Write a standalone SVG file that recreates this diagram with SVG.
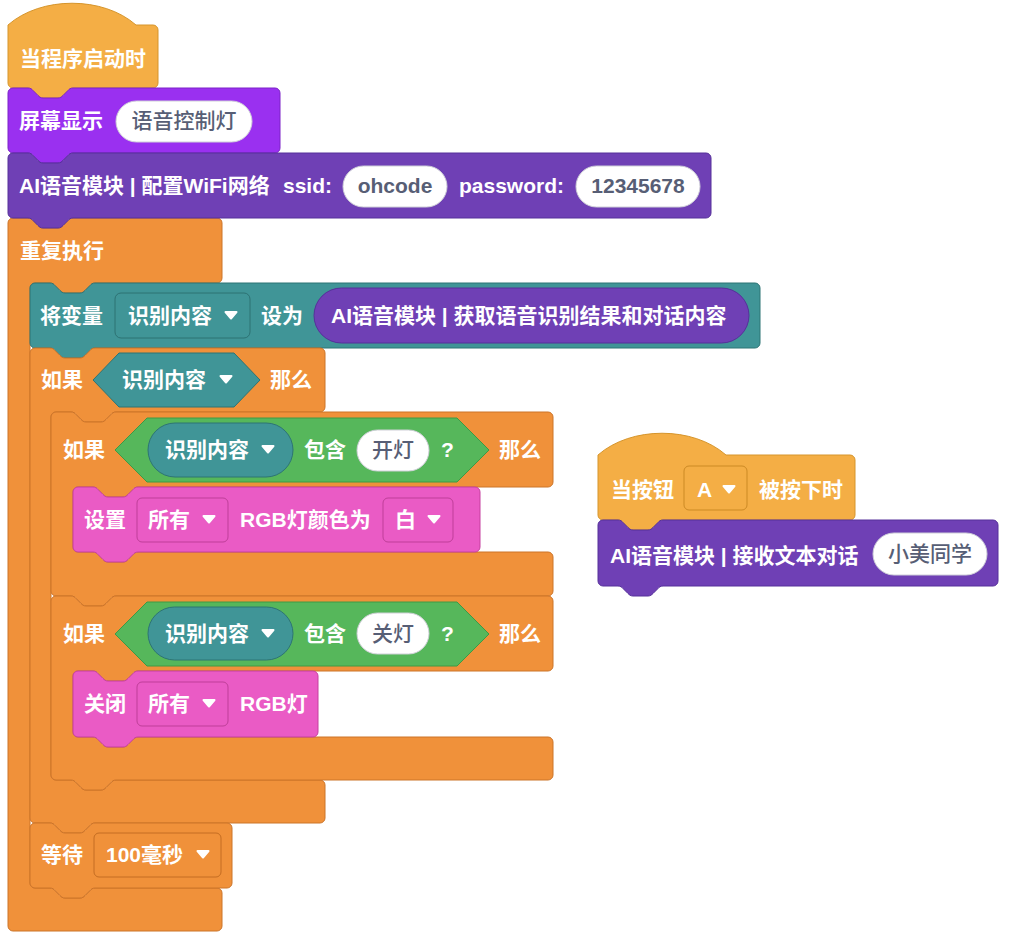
<svg xmlns="http://www.w3.org/2000/svg" xmlns:xlink="http://www.w3.org/1999/xlink" width="1024" height="947" viewBox="0 0 1024 947">
<defs>
<style>
.t{font-family:"Liberation Sans","Noto Sans CJK SC",sans-serif;font-size:21px;font-weight:bold;fill:#fff}
.g{fill:#575e75;text-anchor:middle}
.m{font-weight:500}
.hat{fill:#f4ae45;stroke:#d6952c;stroke-width:1}
.ctl{fill:#f0913a;stroke:#cc7429;stroke-width:1}
.pur1{fill:#9a30f0;stroke:#7c22c8;stroke-width:1}
.pur2{fill:#6f40b5;stroke:#56309a;stroke-width:1}
.teal{fill:#409597;stroke:#2d7475;stroke-width:1}
.grn{fill:#56b75b;stroke:#3e9a44;stroke-width:1}
.pnk{fill:#ea5bc5;stroke:#c6409f;stroke-width:1}
.pill{fill:#fff;stroke:#cfcfd8;stroke-width:1}
.ddh{fill:#f4ae45;stroke:#cc8a25}
.ddc{fill:#f0913a;stroke:#c46d22}
.ddt{fill:#409597;stroke:#2d7273}
.ddp{fill:#ea5bc5;stroke:#bf3f99}
</style>
<path id="arr" d="M-5.5,-3 H5.5 L0,3.5 Z" fill="#fff" stroke="#fff" stroke-width="2" stroke-linejoin="round"/>
</defs>
<rect width="1024" height="947" fill="#fff"/>
<g id="connectors"/>

<g id="forever">
<path class="ctl" d="M8,223 a5,5 0 0 1 5,-5 H28 c2.5,0 4,1.3 5,2.5 l5,5 c1.3,1.3 2.5,2.5 5,2.5 h15 c2.5,0 3.7,-1.2 5,-2.5 l5,-5 c1,-1.2 2.5,-2.5 5,-2.5 H217 a5,5 0 0 1 5,5 V278 a5,5 0 0 1 -5,5 H95 c-2.5,0 -4,1.3 -5,2.5 l-5,5 c-1.3,1.3 -2.5,2.5 -5,2.5 h-15 c-2.5,0 -3.7,-1.2 -5,-2.5 l-5,-5 c-1,-1.2 -2.5,-2.5 -5,-2.5 H35 a5,5 0 0 0 -5,5 V883 a5,5 0 0 0 5,5 H50 c2.5,0 4,1.3 5,2.5 l5,5 c1.3,1.3 2.5,2.5 5,2.5 h15 c2.5,0 3.7,-1.2 5,-2.5 l5,-5 c1,-1.2 2.5,-2.5 5,-2.5 H217 a5,5 0 0 1 5,5 V926 a5,5 0 0 1 -5,5 H13 a5,5 0 0 1 -5,-5 Z"/>
<text class="t" x="20" y="258">重复执行</text>
</g>

<g id="hat-start">
<path class="hat" d="M8,25 c33,-29 95,-29 128,0 H153 a5,5 0 0 1 5,5 V83 a5,5 0 0 1 -5,5 H73 c-2.5,0 -4,1.3 -5,2.5 l-5,5 c-1.3,1.3 -2.5,2.5 -5,2.5 h-15 c-2.5,0 -3.7,-1.2 -5,-2.5 l-5,-5 c-1,-1.2 -2.5,-2.5 -5,-2.5 H13 a5,5 0 0 1 -5,-5 Z"/>
<text class="t" x="20" y="66">当程序启动时</text>
</g>

<g id="screen-show">
<path class="pur1" d="M8,93 a5,5 0 0 1 5,-5 H28 c2.5,0 4,1.3 5,2.5 l5,5 c1.3,1.3 2.5,2.5 5,2.5 h15 c2.5,0 3.7,-1.2 5,-2.5 l5,-5 c1,-1.2 2.5,-2.5 5,-2.5 H275 a5,5 0 0 1 5,5 V148 a5,5 0 0 1 -5,5 H73 c-2.5,0 -4,1.3 -5,2.5 l-5,5 c-1.3,1.3 -2.5,2.5 -5,2.5 h-15 c-2.5,0 -3.7,-1.2 -5,-2.5 l-5,-5 c-1,-1.2 -2.5,-2.5 -5,-2.5 H13 a5,5 0 0 1 -5,-5 Z"/>
<text class="t" x="19" y="128">屏幕显示</text>
<rect class="pill" x="116" y="101" width="136" height="41" rx="20.5"/>
<text class="t g m" x="184" y="128">语音控制灯</text>
</g>

<g id="wifi-config">
<path class="pur2" d="M8,158 a5,5 0 0 1 5,-5 H28 c2.5,0 4,1.3 5,2.5 l5,5 c1.3,1.3 2.5,2.5 5,2.5 h15 c2.5,0 3.7,-1.2 5,-2.5 l5,-5 c1,-1.2 2.5,-2.5 5,-2.5 H706 a5,5 0 0 1 5,5 V213 a5,5 0 0 1 -5,5 H73 c-2.5,0 -4,1.3 -5,2.5 l-5,5 c-1.3,1.3 -2.5,2.5 -5,2.5 h-15 c-2.5,0 -3.7,-1.2 -5,-2.5 l-5,-5 c-1,-1.2 -2.5,-2.5 -5,-2.5 H13 a5,5 0 0 1 -5,-5 Z"/>
<text class="t" x="19" y="193">AI语音模块 | 配置WiFi网络</text>
<text class="t" x="283" y="193">ssid:</text>
<rect class="pill" x="343" y="166" width="104" height="41" rx="20.5"/>
<text class="t g" x="395" y="193">ohcode</text>
<text class="t" x="459" y="193">password:</text>
<rect class="pill" x="576" y="166" width="124" height="41" rx="20.5"/>
<text class="t g" x="638" y="193">12345678</text>
</g>

<g id="set-var">
<path class="teal" d="M30,288 a5,5 0 0 1 5,-5 H50 c2.5,0 4,1.3 5,2.5 l5,5 c1.3,1.3 2.5,2.5 5,2.5 h15 c2.5,0 3.7,-1.2 5,-2.5 l5,-5 c1,-1.2 2.5,-2.5 5,-2.5 H755 a5,5 0 0 1 5,5 V343 a5,5 0 0 1 -5,5 H95 c-2.5,0 -4,1.3 -5,2.5 l-5,5 c-1.3,1.3 -2.5,2.5 -5,2.5 h-15 c-2.5,0 -3.7,-1.2 -5,-2.5 l-5,-5 c-1,-1.2 -2.5,-2.5 -5,-2.5 H35 a5,5 0 0 1 -5,-5 Z"/>
<text class="t" x="40" y="323">将变量</text>
<rect class="ddt" x="115" y="293" width="135" height="45" rx="6"/>
<text class="t" x="128" y="323">识别内容</text>
<use xlink:href="#arr" x="231" y="315"/>
<text class="t" x="261" y="323">设为</text>
<rect class="pur2" x="314" y="288" width="435" height="55" rx="27.5"/>
<text class="t" x="331" y="323">AI语音模块 | 获取语音识别结果和对话内容</text>
</g>

<g id="if-outer">
<path class="ctl" d="M30,353 a5,5 0 0 1 5,-5 H50 c2.5,0 4,1.3 5,2.5 l5,5 c1.3,1.3 2.5,2.5 5,2.5 h15 c2.5,0 3.7,-1.2 5,-2.5 l5,-5 c1,-1.2 2.5,-2.5 5,-2.5 H320 a5,5 0 0 1 5,5 V407 a5,5 0 0 1 -5,5 H116 c-2.5,0 -4,1.3 -5,2.5 l-5,5 c-1.3,1.3 -2.5,2.5 -5,2.5 h-15 c-2.5,0 -3.7,-1.2 -5,-2.5 l-5,-5 c-1,-1.2 -2.5,-2.5 -5,-2.5 H56 a5,5 0 0 0 -5,5 V775 a5,5 0 0 0 5,5 H71 c2.5,0 4,1.3 5,2.5 l5,5 c1.3,1.3 2.5,2.5 5,2.5 h15 c2.5,0 3.7,-1.2 5,-2.5 l5,-5 c1,-1.2 2.5,-2.5 5,-2.5 H320 a5,5 0 0 1 5,5 V818 a5,5 0 0 1 -5,5 H95 c-2.5,0 -4,1.3 -5,2.5 l-5,5 c-1.3,1.3 -2.5,2.5 -5,2.5 h-15 c-2.5,0 -3.7,-1.2 -5,-2.5 l-5,-5 c-1,-1.2 -2.5,-2.5 -5,-2.5 H35 a5,5 0 0 1 -5,-5 Z"/>
<text class="t" x="41" y="387">如果</text>
<path class="teal" d="M93,380 L119,353 H234 L260,380 L234,407 H119 Z"/>
<text class="t" x="122" y="387">识别内容</text>
<use xlink:href="#arr" x="226" y="379"/>
<text class="t" x="270" y="387">那么</text>
</g>

<g id="if-on">
<path class="ctl" d="M51,417 a5,5 0 0 1 5,-5 H71 c2.5,0 4,1.3 5,2.5 l5,5 c1.3,1.3 2.5,2.5 5,2.5 h15 c2.5,0 3.7,-1.2 5,-2.5 l5,-5 c1,-1.2 2.5,-2.5 5,-2.5 H548 a5,5 0 0 1 5,5 V482 a5,5 0 0 1 -5,5 H138 c-2.5,0 -4,1.3 -5,2.5 l-5,5 c-1.3,1.3 -2.5,2.5 -5,2.5 h-15 c-2.5,0 -3.7,-1.2 -5,-2.5 l-5,-5 c-1,-1.2 -2.5,-2.5 -5,-2.5 H78 a5,5 0 0 0 -5,5 V547 a5,5 0 0 0 5,5 H93 c2.5,0 4,1.3 5,2.5 l5,5 c1.3,1.3 2.5,2.5 5,2.5 h15 c2.5,0 3.7,-1.2 5,-2.5 l5,-5 c1,-1.2 2.5,-2.5 5,-2.5 H548 a5,5 0 0 1 5,5 V591 a5,5 0 0 1 -5,5 H116 c-2.5,0 -4,1.3 -5,2.5 l-5,5 c-1.3,1.3 -2.5,2.5 -5,2.5 h-15 c-2.5,0 -3.7,-1.2 -5,-2.5 l-5,-5 c-1,-1.2 -2.5,-2.5 -5,-2.5 H56 a5,5 0 0 1 -5,-5 Z"/>
<text class="t" x="63" y="457">如果</text>
<path class="grn" d="M115,450 L147,418 H457 L489,450 L457,482 H147 Z"/>
<rect class="teal" x="148" y="423" width="145" height="54" rx="27"/>
<text class="t" x="165" y="457">识别内容</text>
<use xlink:href="#arr" x="268" y="449"/>
<text class="t" x="304" y="457">包含</text>
<rect class="pill" x="357" y="430" width="72" height="41" rx="20.5"/>
<text class="t g m" x="393" y="457">开灯</text>
<text class="t" x="441" y="457">?</text>
<text class="t" x="499" y="457">那么</text>
</g>

<g id="set-rgb">
<path class="pnk" d="M73,492 a5,5 0 0 1 5,-5 H93 c2.5,0 4,1.3 5,2.5 l5,5 c1.3,1.3 2.5,2.5 5,2.5 h15 c2.5,0 3.7,-1.2 5,-2.5 l5,-5 c1,-1.2 2.5,-2.5 5,-2.5 H475 a5,5 0 0 1 5,5 V547 a5,5 0 0 1 -5,5 H138 c-2.5,0 -4,1.3 -5,2.5 l-5,5 c-1.3,1.3 -2.5,2.5 -5,2.5 h-15 c-2.5,0 -3.7,-1.2 -5,-2.5 l-5,-5 c-1,-1.2 -2.5,-2.5 -5,-2.5 H78 a5,5 0 0 1 -5,-5 Z"/>
<text class="t" x="84" y="527">设置</text>
<rect class="ddp" x="137" y="498" width="91" height="44" rx="5"/>
<text class="t" x="148" y="527">所有</text>
<use xlink:href="#arr" x="209" y="519"/>
<text class="t" x="240" y="527">RGB灯颜色为</text>
<rect class="ddp" x="383" y="498" width="70" height="44" rx="5"/>
<text class="t" x="395" y="527">白</text>
<use xlink:href="#arr" x="434" y="519"/>
</g>

<g id="if-off">
<path class="ctl" d="M51,601 a5,5 0 0 1 5,-5 H71 c2.5,0 4,1.3 5,2.5 l5,5 c1.3,1.3 2.5,2.5 5,2.5 h15 c2.5,0 3.7,-1.2 5,-2.5 l5,-5 c1,-1.2 2.5,-2.5 5,-2.5 H548 a5,5 0 0 1 5,5 V666 a5,5 0 0 1 -5,5 H138 c-2.5,0 -4,1.3 -5,2.5 l-5,5 c-1.3,1.3 -2.5,2.5 -5,2.5 h-15 c-2.5,0 -3.7,-1.2 -5,-2.5 l-5,-5 c-1,-1.2 -2.5,-2.5 -5,-2.5 H78 a5,5 0 0 0 -5,5 V732 a5,5 0 0 0 5,5 H93 c2.5,0 4,1.3 5,2.5 l5,5 c1.3,1.3 2.5,2.5 5,2.5 h15 c2.5,0 3.7,-1.2 5,-2.5 l5,-5 c1,-1.2 2.5,-2.5 5,-2.5 H548 a5,5 0 0 1 5,5 V775 a5,5 0 0 1 -5,5 H116 c-2.5,0 -4,1.3 -5,2.5 l-5,5 c-1.3,1.3 -2.5,2.5 -5,2.5 h-15 c-2.5,0 -3.7,-1.2 -5,-2.5 l-5,-5 c-1,-1.2 -2.5,-2.5 -5,-2.5 H56 a5,5 0 0 1 -5,-5 Z"/>
<text class="t" x="63" y="641">如果</text>
<path class="grn" d="M115,634 L147,602 H457 L489,634 L457,666 H147 Z"/>
<rect class="teal" x="148" y="607" width="145" height="53" rx="26.5"/>
<text class="t" x="165" y="641">识别内容</text>
<use xlink:href="#arr" x="268" y="633"/>
<text class="t" x="304" y="641">包含</text>
<rect class="pill" x="357" y="613" width="72" height="41" rx="20.5"/>
<text class="t g m" x="393" y="641">关灯</text>
<text class="t" x="441" y="641">?</text>
<text class="t" x="499" y="641">那么</text>
</g>

<g id="close-rgb">
<path class="pnk" d="M73,676 a5,5 0 0 1 5,-5 H93 c2.5,0 4,1.3 5,2.5 l5,5 c1.3,1.3 2.5,2.5 5,2.5 h15 c2.5,0 3.7,-1.2 5,-2.5 l5,-5 c1,-1.2 2.5,-2.5 5,-2.5 H313 a5,5 0 0 1 5,5 V732 a5,5 0 0 1 -5,5 H138 c-2.5,0 -4,1.3 -5,2.5 l-5,5 c-1.3,1.3 -2.5,2.5 -5,2.5 h-15 c-2.5,0 -3.7,-1.2 -5,-2.5 l-5,-5 c-1,-1.2 -2.5,-2.5 -5,-2.5 H78 a5,5 0 0 1 -5,-5 Z"/>
<text class="t" x="84" y="711">关闭</text>
<rect class="ddp" x="137" y="682" width="91" height="44" rx="5"/>
<text class="t" x="148" y="711">所有</text>
<use xlink:href="#arr" x="209" y="703"/>
<text class="t" x="240" y="711">RGB灯</text>
</g>

<g id="wait">
<path class="ctl" d="M30,828 a5,5 0 0 1 5,-5 H50 c2.5,0 4,1.3 5,2.5 l5,5 c1.3,1.3 2.5,2.5 5,2.5 h15 c2.5,0 3.7,-1.2 5,-2.5 l5,-5 c1,-1.2 2.5,-2.5 5,-2.5 H227 a5,5 0 0 1 5,5 V883 a5,5 0 0 1 -5,5 H95 c-2.5,0 -4,1.3 -5,2.5 l-5,5 c-1.3,1.3 -2.5,2.5 -5,2.5 h-15 c-2.5,0 -3.7,-1.2 -5,-2.5 l-5,-5 c-1,-1.2 -2.5,-2.5 -5,-2.5 H35 a5,5 0 0 1 -5,-5 Z"/>
<text class="t" x="41" y="862">等待</text>
<rect class="ddc" x="94" y="833" width="127" height="44" rx="5"/>
<text class="t" x="106" y="862">100毫秒</text>
<use xlink:href="#arr" x="203" y="854"/>
</g>

<g id="hat-button">
<path class="hat" d="M598,455 c33,-29 95,-29 128,0 H850 a5,5 0 0 1 5,5 V515 a5,5 0 0 1 -5,5 H663 c-2.5,0 -4,1.3 -5,2.5 l-5,5 c-1.3,1.3 -2.5,2.5 -5,2.5 h-15 c-2.5,0 -3.7,-1.2 -5,-2.5 l-5,-5 c-1,-1.2 -2.5,-2.5 -5,-2.5 H603 a5,5 0 0 1 -5,-5 Z"/>
<text class="t" x="611" y="497">当按钮</text>
<rect class="ddh" x="684" y="466" width="63" height="44" rx="5"/>
<text class="t" x="697" y="497">A</text>
<use xlink:href="#arr" x="729" y="489"/>
<text class="t" x="759" y="497">被按下时</text>
</g>

<g id="text-dialog">
<path class="pur2" d="M598,525 a5,5 0 0 1 5,-5 H618 c2.5,0 4,1.3 5,2.5 l5,5 c1.3,1.3 2.5,2.5 5,2.5 h15 c2.5,0 3.7,-1.2 5,-2.5 l5,-5 c1,-1.2 2.5,-2.5 5,-2.5 H993 a5,5 0 0 1 5,5 V581 a5,5 0 0 1 -5,5 H663 c-2.5,0 -4,1.3 -5,2.5 l-5,5 c-1.3,1.3 -2.5,2.5 -5,2.5 h-15 c-2.5,0 -3.7,-1.2 -5,-2.5 l-5,-5 c-1,-1.2 -2.5,-2.5 -5,-2.5 H603 a5,5 0 0 1 -5,-5 Z"/>
<text class="t" x="610" y="563">AI语音模块 | 接收文本对话</text>
<rect class="pill" x="873" y="533" width="114" height="42" rx="21"/>
<text class="t g m" x="930" y="561">小美同学</text>
</g>
</svg>
